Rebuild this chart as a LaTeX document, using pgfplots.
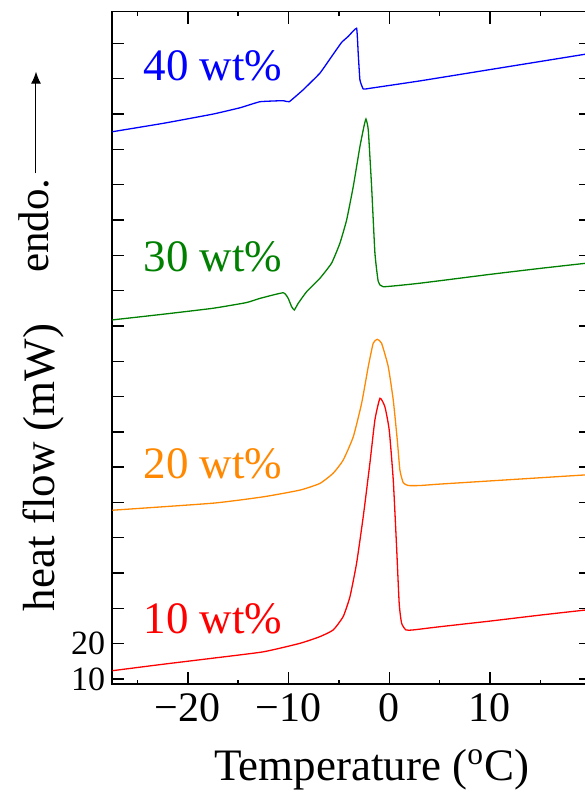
\documentclass[border=0pt]{standalone}
\usepackage{fontspec}
\setmainfont{Liberation Serif}
\usepackage{pgfplots}
\pgfplotsset{compat=1.18}
\usetikzlibrary{arrows.meta}
\definecolor{cred}{RGB}{255,0,0}
\definecolor{corange}{RGB}{255,136,0}
\definecolor{cgreen}{RGB}{0,128,0}
\definecolor{cblue}{RGB}{0,0,255}
\begin{document}
\begin{tikzpicture}
\begin{axis}[
  at={(0pt,0pt)}, anchor=south west,
  scale only axis, width=239.16pt, height=336.3pt,
  xmin=-27.5, xmax=20, ymin=8.5, ymax=199,
  axis line style={line width=0.8pt},
  tick align=inside, major tick length=6pt, minor tick length=2pt,
  tick style={line width=0.7pt, black},
  xtick={-20,-10,0,10},
  xticklabels={−20,−10,0,10},
  minor xtick={-25,-15,-5,5,15},
  ytick={10,20,...,190},
  yticklabels={10,20,{},{},{},{},{},{},{},{},{},{},{},{},{},{},{},{},{}},
  xticklabel style={font=\fontsize{21}{25}\selectfont, yshift=-1pt},
  yticklabel style={font=\fontsize{17}{20}\selectfont},
  clip=true,
]
\addplot[cred, line width=0.65pt, smooth, tension=0.3] coordinates {
(-27.5,12.35) (-22.4,14.2) (-17.5,15.9) (-12.5,17.7) (-8.87,20.1) (-6.88,22.0) (-5.56,23.9) (-4.57,27.7) (-3.9,33.3) (-3.24,42.8) (-2.58,56.0) (-1.92,71.1) (-1.42,83.4) (-0.92,89.5) (-0.43,87.1) (0,80.5) (0.4,66.4) (0.73,47.5) (0.99,31.4) (1.23,25.8) (1.66,23.9) (2.38,23.9) (5,24.8) (10,26.4) (15,28.1) (20,29.7)
};
\addplot[corange, line width=0.65pt, smooth, tension=0.3] coordinates {
(-27.5,57.8) (-17.5,59.8) (-12.5,61.6) (-8.87,63.5) (-6.88,65.4) (-5.56,68.3) (-4.57,72.0) (-3.57,78.6) (-2.74,88.1) (-2.08,98.5) (-1.59,105.1) (-1.19,106.2) (-0.76,105.1) (-0.1,98.5) (0.4,89.0) (0.8,77.7) (1.06,69.2) (1.39,65.6) (1.89,64.8) (3.05,64.8) (5,65.2) (10,66.1) (15,67.0) (20,67.9)
};
\addplot[cgreen, line width=0.65pt, smooth, tension=0.25] coordinates {
(-27.5,111.7) (-22.5,113.3) (-17.5,115.0) (-14.2,116.6) (-12.84,117.8) (-10.53,119.4) (-10.03,117.8) (-9.7,115.5) (-9.43,114.5) (-9.04,116.4) (-8.2,119.7) (-6.88,123.5) (-5.72,127.8) (-4.9,133.4) (-4.23,140.0) (-3.57,149.5) (-2.91,160.8) (-2.51,166.5) (-2.31,168.6) (-2.08,165.5) (-1.75,149.5) (-1.42,130.6) (-1.09,122.6) (-0.6,121.1) (3.05,122.1) (10,124.6) (15,126.3) (20,127.9)
};
\addplot[cblue, line width=0.65pt, smooth, tension=0.2] coordinates {
(-27.5,165.0) (-22.4,167.4) (-17.5,170.0) (-14.8,171.8) (-12.84,173.5) (-10.53,173.8) (-9.93,173.5) (-8.54,176.9) (-6.88,181.6) (-5.72,186.3) (-4.73,190.3) (-4.07,192.0) (-3.24,194.3) (-3.08,187.2) (-2.91,179.7) (-2.58,177.1) (-1.92,177.3) (3.05,179.4) (10,182.6) (15,184.9) (20,187.2)
};
\node[anchor=base west, text=cblue, font=\fontsize{22.5}{27}\selectfont, inner sep=0pt] at (axis cs:-24.43,179.4) {40 wt\%};
\node[anchor=base west, text=cgreen, font=\fontsize{22.5}{27}\selectfont, inner sep=0pt] at (axis cs:-24.43,125.4) {30 wt\%};
\node[anchor=base west, text=corange, font=\fontsize{22.5}{27}\selectfont, inner sep=0pt] at (axis cs:-24.43,66.9) {20 wt\%};
\node[anchor=base west, text=cred, font=\fontsize{22.5}{27}\selectfont, inner sep=0pt] at (axis cs:-24.43,22.9) {10 wt\%};
\end{axis}
% axis labels and annotation (outside the axis box, in pt relative to its lower-left corner)
\node[anchor=base, font=\fontsize{22.5}{27}\selectfont, inner sep=0pt] at (129.7pt,-47.85pt) {Temperature (\textsuperscript{o}C)};
\node[rotate=90, anchor=base, font=\fontsize{22.5}{27}\selectfont, inner sep=0pt] at (-28.65pt,108.4pt) {heat flow (mW)};
\node[rotate=90, anchor=base west, font=\fontsize{21.5}{26}\selectfont, inner sep=0pt] at (-32pt,205.5pt) {endo.};
\draw[line width=0.5pt, -{Latex[length=6pt, width=5pt]}] (-38.15pt,255.5pt) -- (-38.15pt,306.3pt);
\pgfresetboundingbox
\path[use as bounding box] (-56.15pt,-53.85pt) rectangle (235.85pt,342.15pt);
\end{tikzpicture}
\end{document}
